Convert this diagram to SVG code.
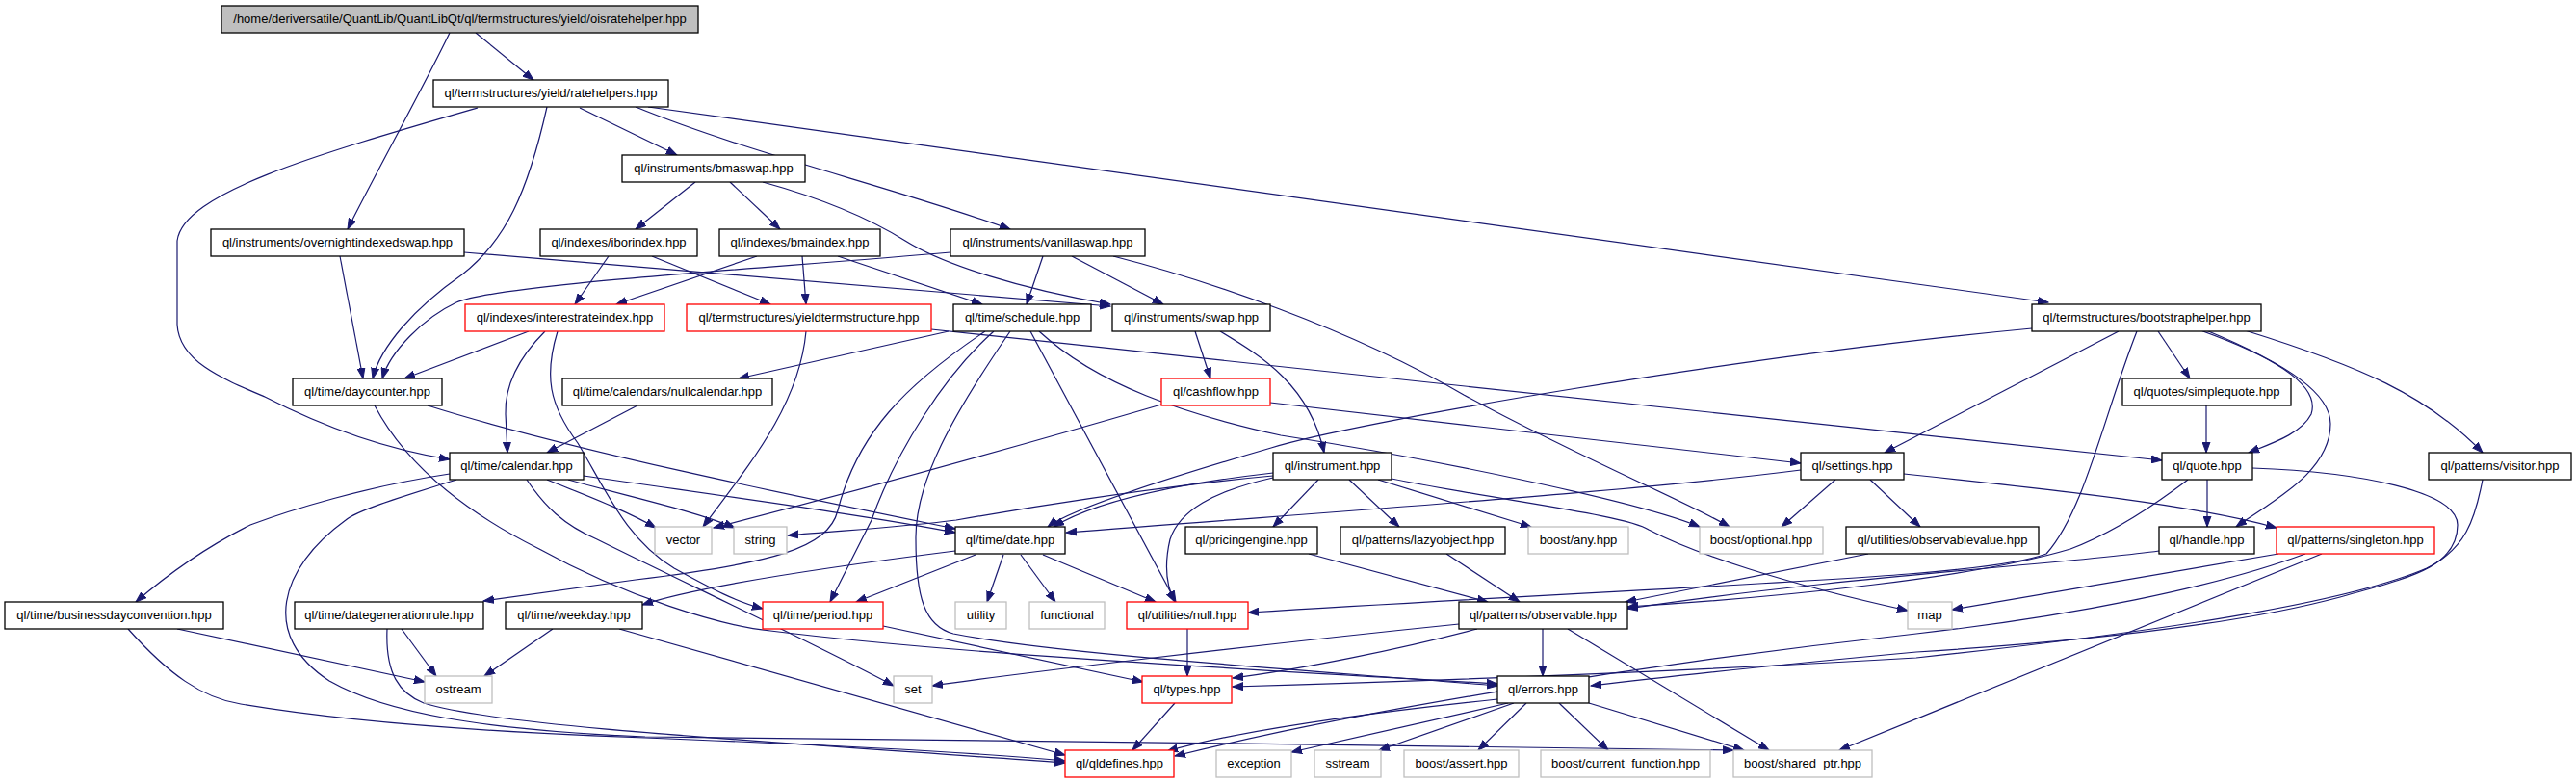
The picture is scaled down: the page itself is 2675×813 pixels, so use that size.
<svg xmlns="http://www.w3.org/2000/svg" width="2675" height="813" viewBox="0 0 2675 813">
<style>
.n rect{fill:#fff;stroke:#000;stroke-width:1.3}
.n.r rect{stroke:#ff0000}
.n.g rect{stroke:#bfbfbf}
.n.root rect{fill:#bfbfbf}
text{font-family:"Liberation Sans",Arial,sans-serif;font-size:13px;text-anchor:middle;fill:#000}
#edges path{fill:none;stroke:#191970;stroke-width:1.2;marker-end:url(#a)}
</style>
<defs>
<marker id="a" markerWidth="12" markerHeight="9" refX="11" refY="4.5" orient="auto" markerUnits="userSpaceOnUse"><path d="M0,0.5L11,4.5L0,8.5z" fill="#191970" stroke="#191970" stroke-width="1"/></marker>
</defs>
<rect width="2675" height="813" fill="#fff"/>
<g id="edges">
<path d="M494,34 L554,83"/>
<path d="M467,34 C440,90 390,180 361,238"/>
<path d="M602,112 L703,161"/>
<path d="M660,111 C780,160 930,195 1049,238"/>
<path d="M673,111 L2127,314"/>
<path d="M568,111 C548,200 525,250 480,285 C430,320 395,360 387,393"/>
<path d="M496,112 C330,160 190,200 184,250 L184,337 C186,375 230,393 275,412 C345,448 410,468 467,477"/>
<path d="M353,266 L377,393"/>
<path d="M482,262 L1153,318"/>
<path d="M722,189 L660,238"/>
<path d="M758,189 L810,238"/>
<path d="M792,189 C850,205 900,225 940,250 C980,275 1060,300 1153,316"/>
<path d="M632,266 L597,316"/>
<path d="M677,266 L800,316"/>
<path d="M870,266 L1020,316"/>
<path d="M786,266 L640,316"/>
<path d="M833,266 L837,316"/>
<path d="M987,262 C780,280 520,295 474,314 C440,330 405,365 397,393"/>
<path d="M1083,266 L1066,316"/>
<path d="M1113,266 L1208,316"/>
<path d="M1156,266 C1250,290 1400,340 1520,410 C1650,480 1750,520 1796,547"/>
<path d="M549,344 L420,393"/>
<path d="M566,344 C540,370 524,400 525,430 L527,470"/>
<path d="M579,344 C565,390 570,420 600,460 C630,510 650,560 700,590 C740,612 765,625 792,632"/>
<path d="M837,344 C830,420 780,480 730,547"/>
<path d="M967,342 L2245,478"/>
<path d="M985,344 L767,393"/>
<path d="M1023,344 C940,400 890,450 870,530 C860,570 800,585 660,602 L502,624"/>
<path d="M1032,344 C980,390 930,470 905,540 L862,625"/>
<path d="M1049,344 C990,430 950,500 951,560 C951,620 960,650 990,658 C1100,680 1350,695 1555,712"/>
<path d="M1070,344 L1221,625"/>
<path d="M1079,344 C1140,400 1230,430 1330,452 C1480,475 1700,520 1765,547"/>
<path d="M1241,344 L1257,393"/>
<path d="M1267,344 C1310,370 1360,400 1375,470"/>
<path d="M1206,420 C1000,480 850,520 741,548"/>
<path d="M1319,418 C1500,440 1700,460 1870,481"/>
<path d="M662,421 L568,470"/>
<path d="M444,421 C600,470 850,520 992,549"/>
<path d="M389,421 C420,480 480,530 560,570 C650,620 750,650 800,655 C1000,680 1300,695 1555,710"/>
<path d="M467,492 C380,505 300,530 260,545 C210,570 170,600 141,625"/>
<path d="M474,498 C420,515 370,530 359,540 C290,590 270,660 342,707 C400,740 500,758 670,765 C900,770 1500,772 1800,779"/>
<path d="M547,498 C565,525 585,545 620,560 C700,600 850,670 928,712"/>
<path d="M568,498 C610,515 650,530 681,548"/>
<path d="M590,498 C650,515 720,530 763,548"/>
<path d="M606,494 C750,515 900,535 992,553"/>
<path d="M184,653 L441,708"/>
<path d="M133,653 C175,700 210,725 250,731 C350,748 500,760 670,766 C850,773 1000,780 1106,790"/>
<path d="M417,653 L453,702"/>
<path d="M402,653 C400,700 415,720 440,730 C520,755 800,770 1106,792"/>
<path d="M574,653 L503,702"/>
<path d="M643,653 L1106,784"/>
<path d="M992,572 C850,590 720,610 667,628"/>
<path d="M1013,576 L889,625"/>
<path d="M1042,576 L1025,625"/>
<path d="M1060,576 L1096,625"/>
<path d="M1083,576 L1200,625"/>
<path d="M917,650 L1187,708"/>
<path d="M1233,653 L1233,702"/>
<path d="M1220,730 L1176,779"/>
<path d="M1534,653 C1450,675 1350,695 1280,704"/>
<path d="M1515,648 C1300,670 1050,700 968,712"/>
<path d="M1602,653 L1602,702"/>
<path d="M1628,653 L1837,779"/>
<path d="M1555,726 C1450,737 1300,755 1212,780"/>
<path d="M1566,730 L1341,781"/>
<path d="M1572,730 L1432,779"/>
<path d="M1585,730 L1535,779"/>
<path d="M1619,730 L1670,779"/>
<path d="M1650,730 L1811,779"/>
<path d="M2242,572 C2150,585 1900,600 1690,632"/>
<path d="M2272,498 C2230,530 2190,555 2150,570 C2050,600 1850,620 1690,630"/>
<path d="M2219,344 C2185,430 2165,530 2125,575 C2060,600 1800,605 1296,636"/>
<path d="M1870,488 C1700,510 1400,530 1107,553"/>
<path d="M1906,498 L1850,547"/>
<path d="M1942,498 L1994,547"/>
<path d="M1977,492 C2150,510 2280,525 2364,548"/>
<path d="M2200,344 L1957,470"/>
<path d="M2110,341 C1800,370 1400,440 1320,465 C1200,500 1110,530 1088,547"/>
<path d="M1322,491 C1200,505 1130,525 1094,547"/>
<path d="M1369,498 L1322,547"/>
<path d="M1401,498 L1453,547"/>
<path d="M1431,498 L1590,547"/>
<path d="M1445,497 C1560,520 1690,535 1712,550 C1760,575 1850,605 1981,634"/>
<path d="M1322,496 C1260,510 1225,530 1215,560 C1208,590 1212,610 1220,625"/>
<path d="M1322,494 C1200,505 1050,530 993,540 C930,548 870,551 818,556"/>
<path d="M1359,575 L1545,625"/>
<path d="M1502,575 L1578,625"/>
<path d="M1940,575 L1688,625"/>
<path d="M2366,575 L2027,633"/>
<path d="M2394,575 C2300,610 2150,640 1990,658 C1700,690 1400,740 1220,785"/>
<path d="M2411,575 L1910,779"/>
<path d="M2291,420 L2291,470"/>
<path d="M2241,344 L2274,393"/>
<path d="M2285,343 C2360,370 2410,400 2400,430 C2390,450 2360,460 2335,470"/>
<path d="M2291,343 C2380,380 2420,410 2420,440 C2420,490 2360,520 2322,547"/>
<path d="M2331,343 C2450,380 2520,410 2578,470"/>
<path d="M2292,498 L2292,547"/>
<path d="M2339,486 C2450,490 2552,510 2552,545 C2552,590 2500,600 2430,620 C2300,655 2100,670 1990,677 C1850,690 1750,700 1652,712"/>
<path d="M2578,498 C2570,540 2560,570 2520,590 C2450,620 2300,650 1990,683 C1700,700 1450,708 1280,713"/>
</g>
<g id="n_root" class="n root"><rect x="230" y="6" width="495" height="28"/><text x="477.5" y="24">/home/deriversatile/QuantLib/QuantLibQt/ql/termstructures/yield/oisratehelper.hpp</text></g>
<g id="n_ratehelpers" class="n"><rect x="450" y="83" width="244" height="28"/><text x="572" y="101">ql/termstructures/yield/ratehelpers.hpp</text></g>
<g id="n_overnight" class="n"><rect x="219" y="238" width="263" height="28"/><text x="350.5" y="256">ql/instruments/overnightindexedswap.hpp</text></g>
<g id="n_bmaswap" class="n"><rect x="646" y="161" width="190" height="28"/><text x="741" y="179">ql/instruments/bmaswap.hpp</text></g>
<g id="n_iborindex" class="n"><rect x="561" y="238" width="163" height="28"/><text x="642.5" y="256">ql/indexes/iborindex.hpp</text></g>
<g id="n_bmaindex" class="n"><rect x="747" y="238" width="167" height="28"/><text x="830.5" y="256">ql/indexes/bmaindex.hpp</text></g>
<g id="n_vanillaswap" class="n"><rect x="987" y="238" width="202" height="28"/><text x="1088" y="256">ql/instruments/vanillaswap.hpp</text></g>
<g id="n_interestrateindex" class="n r"><rect x="483" y="316" width="207" height="28"/><text x="586.5" y="334">ql/indexes/interestrateindex.hpp</text></g>
<g id="n_yieldtermstructure" class="n r"><rect x="713" y="316" width="254" height="28"/><text x="840" y="334">ql/termstructures/yieldtermstructure.hpp</text></g>
<g id="n_schedule" class="n"><rect x="990" y="316" width="143" height="28"/><text x="1061.5" y="334">ql/time/schedule.hpp</text></g>
<g id="n_swap" class="n"><rect x="1155" y="316" width="164" height="28"/><text x="1237" y="334">ql/instruments/swap.hpp</text></g>
<g id="n_bootstraphelper" class="n"><rect x="2110" y="316" width="238" height="28"/><text x="2229" y="334">ql/termstructures/bootstraphelper.hpp</text></g>
<g id="n_daycounter" class="n"><rect x="304" y="393" width="155" height="28"/><text x="381.5" y="411">ql/time/daycounter.hpp</text></g>
<g id="n_nullcalendar" class="n"><rect x="584" y="393" width="218" height="28"/><text x="693" y="411">ql/time/calendars/nullcalendar.hpp</text></g>
<g id="n_cashflow" class="n r"><rect x="1206" y="393" width="113" height="28"/><text x="1262.5" y="411">ql/cashflow.hpp</text></g>
<g id="n_simplequote" class="n"><rect x="2204" y="393" width="175" height="28"/><text x="2291.5" y="411">ql/quotes/simplequote.hpp</text></g>
<g id="n_calendar" class="n"><rect x="467" y="470" width="139" height="28"/><text x="536.5" y="488">ql/time/calendar.hpp</text></g>
<g id="n_instrument" class="n"><rect x="1322" y="470" width="123" height="28"/><text x="1383.5" y="488">ql/instrument.hpp</text></g>
<g id="n_settings" class="n"><rect x="1870" y="470" width="107" height="28"/><text x="1923.5" y="488">ql/settings.hpp</text></g>
<g id="n_quote" class="n"><rect x="2245" y="470" width="94" height="28"/><text x="2292" y="488">ql/quote.hpp</text></g>
<g id="n_visitor" class="n"><rect x="2522" y="470" width="148" height="28"/><text x="2596" y="488">ql/patterns/visitor.hpp</text></g>
<g id="n_vector" class="n g"><rect x="680" y="547" width="59" height="28"/><text x="709.5" y="565">vector</text></g>
<g id="n_string" class="n g"><rect x="762" y="547" width="55" height="28"/><text x="789.5" y="565">string</text></g>
<g id="n_date" class="n"><rect x="992" y="547" width="114" height="28"/><text x="1049" y="565">ql/time/date.hpp</text></g>
<g id="n_pricingengine" class="n"><rect x="1231" y="547" width="137" height="28"/><text x="1299.5" y="565">ql/pricingengine.hpp</text></g>
<g id="n_lazyobject" class="n"><rect x="1392" y="547" width="171" height="28"/><text x="1477.5" y="565">ql/patterns/lazyobject.hpp</text></g>
<g id="n_any" class="n g"><rect x="1587" y="547" width="104" height="28"/><text x="1639" y="565">boost/any.hpp</text></g>
<g id="n_optional" class="n g"><rect x="1765" y="547" width="128" height="28"/><text x="1829" y="565">boost/optional.hpp</text></g>
<g id="n_observablevalue" class="n"><rect x="1917" y="547" width="200" height="28"/><text x="2017" y="565">ql/utilities/observablevalue.hpp</text></g>
<g id="n_handle" class="n"><rect x="2242" y="547" width="99" height="28"/><text x="2291.5" y="565">ql/handle.hpp</text></g>
<g id="n_singleton" class="n r"><rect x="2364" y="547" width="164" height="28"/><text x="2446" y="565">ql/patterns/singleton.hpp</text></g>
<g id="n_businessday" class="n"><rect x="5" y="625" width="227" height="28"/><text x="118.5" y="643">ql/time/businessdayconvention.hpp</text></g>
<g id="n_dategen" class="n"><rect x="306" y="625" width="196" height="28"/><text x="404" y="643">ql/time/dategenerationrule.hpp</text></g>
<g id="n_weekday" class="n"><rect x="525" y="625" width="142" height="28"/><text x="596" y="643">ql/time/weekday.hpp</text></g>
<g id="n_period" class="n r"><rect x="792" y="625" width="125" height="28"/><text x="854.5" y="643">ql/time/period.hpp</text></g>
<g id="n_utility" class="n g"><rect x="992" y="625" width="53" height="28"/><text x="1018.5" y="643">utility</text></g>
<g id="n_functional" class="n g"><rect x="1069" y="625" width="78" height="28"/><text x="1108" y="643">functional</text></g>
<g id="n_null" class="n r"><rect x="1170" y="625" width="126" height="28"/><text x="1233" y="643">ql/utilities/null.hpp</text></g>
<g id="n_observable" class="n"><rect x="1515" y="625" width="175" height="28"/><text x="1602.5" y="643">ql/patterns/observable.hpp</text></g>
<g id="n_map" class="n g"><rect x="1981" y="625" width="46" height="28"/><text x="2004" y="643">map</text></g>
<g id="n_ostream" class="n g"><rect x="441" y="702" width="70" height="28"/><text x="476" y="720">ostream</text></g>
<g id="n_set" class="n g"><rect x="928" y="702" width="40" height="28"/><text x="948" y="720">set</text></g>
<g id="n_types" class="n r"><rect x="1186" y="702" width="93" height="28"/><text x="1232.5" y="720">ql/types.hpp</text></g>
<g id="n_errors" class="n"><rect x="1555" y="702" width="95" height="28"/><text x="1602.5" y="720">ql/errors.hpp</text></g>
<g id="n_qldefines" class="n r"><rect x="1106" y="779" width="113" height="28"/><text x="1162.5" y="797">ql/qldefines.hpp</text></g>
<g id="n_exception" class="n g"><rect x="1263" y="779" width="78" height="28"/><text x="1302" y="797">exception</text></g>
<g id="n_sstream" class="n g"><rect x="1365" y="779" width="69" height="28"/><text x="1399.5" y="797">sstream</text></g>
<g id="n_assert" class="n g"><rect x="1458" y="779" width="119" height="28"/><text x="1517.5" y="797">boost/assert.hpp</text></g>
<g id="n_current_function" class="n g"><rect x="1600" y="779" width="176" height="28"/><text x="1688" y="797">boost/current_function.hpp</text></g>
<g id="n_shared_ptr" class="n g"><rect x="1800" y="779" width="144" height="28"/><text x="1872" y="797">boost/shared_ptr.hpp</text></g>
</svg>
